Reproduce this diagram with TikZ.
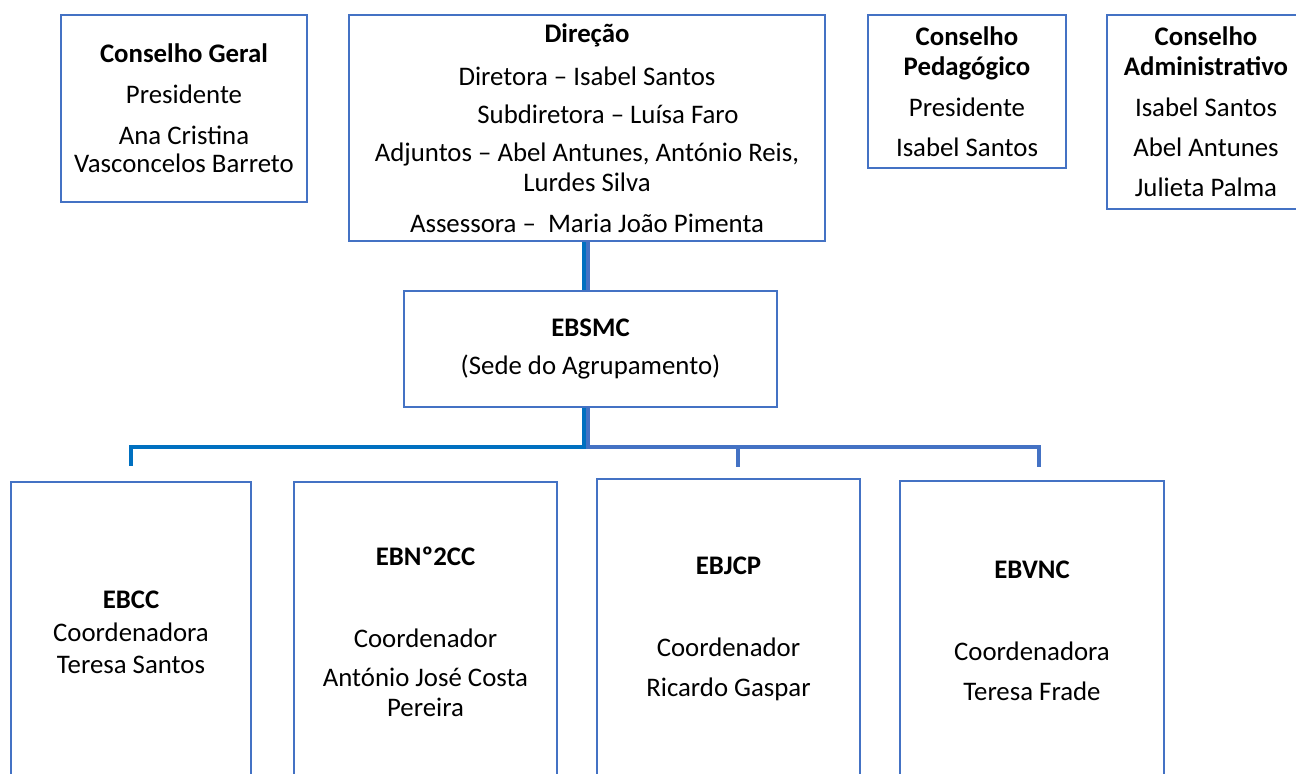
\documentclass[tikz,border=0pt]{standalone}
\usepackage{fontspec}
\setmainfont{Carlito}
\definecolor{boxblue}{HTML}{4472C4}
\definecolor{darkblue}{HTML}{0070C0}

\begin{document}
\begin{tikzpicture}[x=0.5pt, y=-0.5pt]
\useasboundingbox (0,0) rectangle (1296,773);

\coordinate (T_1) at (584, 0);
\coordinate (T_2) at (588, 0);
\coordinate (B_1) at (131, 447);
\coordinate (D_1) at (738, 467);
\coordinate (D_2) at (1039, 467);


\tikzset{BoxStyle/.style = {
 draw = boxblue,
 line width = 1.1pt,
 align = center,
 inner sep = 0pt,
 font = \fontsize{13.4}{14}\selectfont} }

\node[BoxStyle, minimum width=123pt, minimum height=93.5pt] (CG) at (184, 108.5)
 {\textbf{Conselho Geral}\\[6.5pt] Presidente\\[6.5pt] Ana Cristina\\ Vasconcelos Barreto};
\node[BoxStyle, minimum width=238pt, minimum height=113pt] (Dir) at (587, 128)
 {\textbf{Direção}\\[7.5pt] Diretora – Isabel Santos\\[5pt]
  \hspace*{21pt}Subdiretora – Luísa Faro\\[5pt]
  Adjuntos – Abel Antunes, António Reis,\\[1pt] Lurdes Silva\\[6.5pt]
  Assessora –\ \ Maria João Pimenta};
\node[BoxStyle, minimum width=99pt, minimum height=76.5pt] (CP) at (967, 91.5)
 {\textbf{Conselho}\\[1pt] \textbf{Pedagógico}\\[6.5pt] Presidente\\[6pt] Isabel Santos};
\node[BoxStyle, minimum width=99pt, minimum height=97pt] (CA) at (1206, 112)
 {\textbf{Conselho}\\[1pt] \textbf{Administrativo}\\[6.5pt] Isabel Santos\\[6pt] Abel Antunes\\[6pt] Julieta Palma};
\node[BoxStyle, minimum width=186.5pt, minimum height=58pt] (EBSMC) at (590.5, 349)
 {\textbf{EBSMC}\\[5pt] (Sede do Agrupamento)};

\node[BoxStyle, minimum width=119.75pt, minimum height=150pt] (EBCC) at (131, 632)
 {\textbf{EBCC}\\[2.5pt] Coordenadora\\[2pt] Teresa Santos};
\node[BoxStyle, minimum width=131.5pt, minimum height=150pt] (EBN2CC) at (425.5, 632)
 {\textbf{EBNº2CC}\\[27pt] Coordenador\\[5.5pt] António José Costa\\[1pt] Pereira};
\node[BoxStyle, minimum width=131.5pt, minimum height=150pt] (EBJCP) at (728.5, 629)
 {\textbf{EBJCP}\\[27pt] Coordenador\\[6pt] Ricardo Gaspar};
\node[BoxStyle, minimum width=132pt, minimum height=150pt] (EBVNC) at (1032, 631)
 {\textbf{EBVNC}\\[27pt] Coordenadora\\[6pt] Teresa Frade};


\tikzset{LineStyle/.style = {line width=1.8pt} }

\draw[LineStyle, darkblue] (Dir.south -| T_1) -- (EBSMC.north -| T_1);
\draw[LineStyle, boxblue] (Dir.south -| T_2) -- (EBSMC.north -| T_2);
\draw[LineStyle, darkblue] (EBSMC.south -| T_1) |- (B_1) -- ([yshift=7.5pt]EBCC.north);
\draw[LineStyle, boxblue] (EBSMC.south -| T_2) |- (D_2 |- B_1) -- (D_2);
\draw[LineStyle, boxblue] (D_1 |- B_1) -- (D_1);

\end{tikzpicture}
\end{document}
